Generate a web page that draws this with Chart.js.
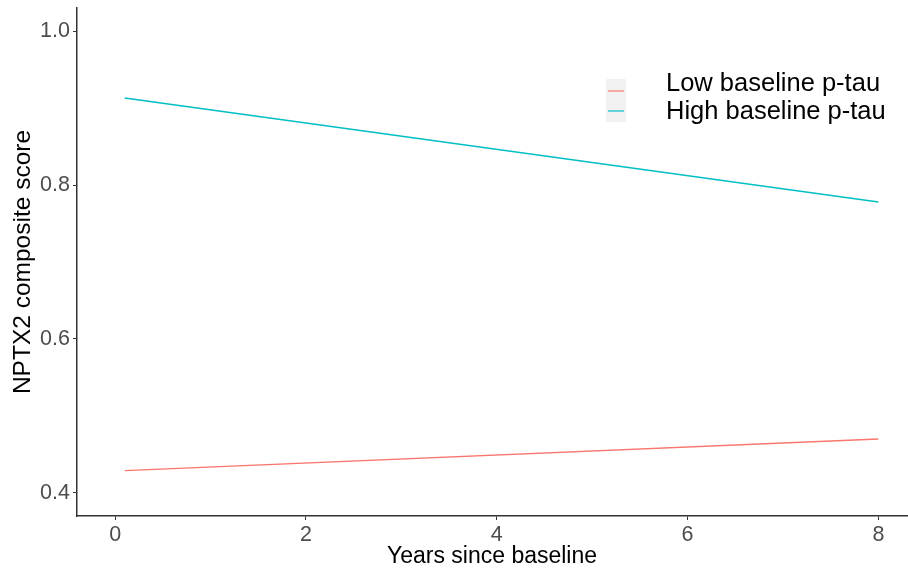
<!DOCTYPE html>
<html lang="en">
<head>
    <meta charset="UTF-8">
    <title>NPTX2 composite score</title>
    <script src="https://cdn.jsdelivr.net/npm/chart.js"></script>
    <style>
        html, body { margin: 0; padding: 0; background: #fff; }
        #wrap { width: 908px; height: 571px; position: relative; }
    </style>
</head>
<body>
    <div id="wrap">
        <canvas id="nptxChart" width="908" height="571"></canvas>
    </div>

    <script>
        // data
        var years = [0.1, 8];
        var lowPtau = [0.429, 0.470];
        var highPtau = [0.913, 0.778];
        var seriesNames = ['Low baseline p-tau', 'High baseline p-tau'];
        var seriesColors = ['#F8766D', '#00BFC4'];
        var xTicks = [0, 2, 4, 6, 8];
        var yTicks = [0.4, 0.6, 0.8, 1.0];

        var FONT = '"Liberation Sans", Arial, Helvetica, sans-serif';

        function toPoints(xs, ys) {
            return xs.map(function(x, i) { return { x: x, y: ys[i] }; });
        }

        // ggplot style legend drawn inside the plot area
        var insideLegend = {
            id: 'insideLegend',
            afterDraw: function(chart) {
                var ctx = chart.ctx;
                ctx.save();
                ctx.fillStyle = '#F2F2F2';
                ctx.fillRect(606, 79, 20, 43);
                var keyY = [91, 111];
                var textY = [84, 112];
                chart.data.datasets.forEach(function(ds, i) {
                    ctx.strokeStyle = ds.borderColor;
                    ctx.lineWidth = 1.2;
                    ctx.beginPath();
                    ctx.moveTo(608, keyY[i]);
                    ctx.lineTo(624, keyY[i]);
                    ctx.stroke();
                    ctx.fillStyle = '#000';
                    ctx.font = '25.5px ' + FONT;
                    ctx.textBaseline = 'middle';
                    ctx.textAlign = 'left';
                    ctx.fillText(ds.label, 666, textY[i]);
                });
                ctx.restore();
            }
        };

        var ctx = document.getElementById('nptxChart').getContext('2d');
        var chart = new Chart(ctx, {
            type: 'line',
            data: {
                datasets: [{
                    label: seriesNames[0],
                    data: toPoints(years, lowPtau),
                    borderColor: seriesColors[0],
                    borderWidth: 1.4,
                    pointRadius: 0,
                    fill: false
                }, {
                    label: seriesNames[1],
                    data: toPoints(years, highPtau),
                    borderColor: seriesColors[1],
                    borderWidth: 1.4,
                    pointRadius: 0,
                    fill: false
                }]
            },
            options: {
                responsive: false,
                animation: false,
                layout: { padding: { top: 8, right: 1, left: 0, bottom: 0 } },
                plugins: {
                    legend: { display: false },
                    tooltip: { enabled: false }
                },
                scales: {
                    x: {
                        type: 'linear',
                        min: -0.4,
                        max: 8.3,
                        afterBuildTicks: function(axis) {
                            axis.ticks = xTicks.map(function(v) { return { value: v }; });
                        },
                        afterFit: function(axis) {
                            axis.height = 55;
                            axis.paddingLeft = 0;
                            axis.paddingRight = 0;
                        },
                        grid: {
                            drawOnChartArea: false,
                            tickLength: 4,
                            tickColor: '#333',
                            tickWidth: 1
                        },
                        border: { color: '#333', width: 1.5 },
                        ticks: {
                            color: '#4D4D4D',
                            font: { family: FONT, size: 21.5 },
                            padding: 2,
                            maxRotation: 0
                        },
                        title: {
                            display: true,
                            text: 'Years since baseline',
                            color: '#000',
                            font: { family: FONT, size: 23 },
                            padding: { top: 0, bottom: 1 }
                        }
                    },
                    y: {
                        min: 0.37,
                        max: 1.03,
                        afterBuildTicks: function(axis) {
                            axis.ticks = yTicks.map(function(v) { return { value: v }; });
                        },
                        afterFit: function(axis) {
                            axis.width = 77;
                            axis.paddingTop = 0;
                            axis.paddingBottom = 0;
                        },
                        grid: {
                            drawOnChartArea: false,
                            tickLength: 4,
                            tickColor: '#333',
                            tickWidth: 1
                        },
                        border: { color: '#333', width: 1.5 },
                        ticks: {
                            color: '#4D4D4D',
                            font: { family: FONT, size: 21.5 },
                            padding: 3,
                            callback: function(v) { return v.toFixed(1); }
                        },
                        title: {
                            display: true,
                            text: 'NPTX2 composite score',
                            color: '#000',
                            font: { family: FONT, size: 24.5 },
                            padding: { top: 9, bottom: 0 }
                        }
                    }
                }
            },
            plugins: [insideLegend]
        });
    </script>
</body>
</html>
